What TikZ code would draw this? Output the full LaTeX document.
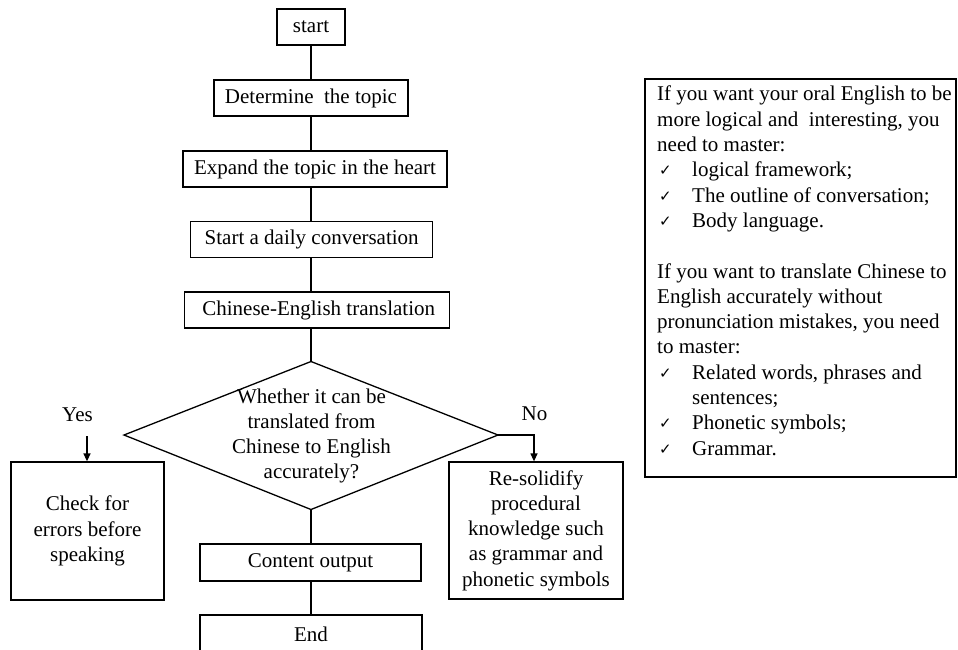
\documentclass[tikz,border=0pt]{standalone}
\usepackage{fontspec}
\setmainfont{Liberation Serif}
\newfontfamily\symfont{DejaVu Sans}
\usetikzlibrary{arrows.meta}
\newcommand{\chk}{\hspace*{2pt}\makebox[33pt][l]{\raisebox{1pt}{\fontsize{15}{15}\selectfont\symfont ✓}}}
\begin{document}
\begin{tikzpicture}[x=1pt,y=-1pt,
  every node/.style={font=\fontsize{21}{25.3}\selectfont},
  box/.style={draw,line width=1.3pt,inner sep=0pt,align=center},
  txt/.style={inner sep=0pt,align=center},
  conn/.style={line width=1.3pt},
  arr/.style={line width=1.3pt,-{Triangle[length=8pt,width=7pt]}}]
\useasboundingbox (0,0) rectangle (958,649);
\clip (0,0) rectangle (958,649);
% main column
\node[box,minimum width=68pt,minimum height=36pt] (start) at (311,27) {start};
\node[box,minimum width=194pt,minimum height=36pt] (det) at (311,98) {Determine\ \ the topic};
\node[box,minimum width=264pt,minimum height=36pt] (exp) at (315,169) {Expand the topic in the heart};
\node[box,minimum width=242pt,minimum height=36pt] (daily) at (311.7,239.7) {Start a daily conversation};
\node[box,minimum width=265pt,minimum height=36pt] (trans) at (316.7,310) {\hspace*{4pt}Chinese-English translation};
% diamond
\coordinate (dT) at (311,361.5);
\coordinate (dL) at (124,435);
\coordinate (dR) at (498,435);
\coordinate (dB) at (311,509.5);
\draw[line width=1.3pt,line join=miter] (dT) -- (dR) -- (dB) -- (dL) -- cycle;
\node[txt] (q) at (311.5,436) {Whether it can be\\translated from\\Chinese to English\\accurately?};
\node[box,minimum width=221pt,minimum height=37pt] (out) at (310.5,562.5) {Content output};
\node[box,minimum width=222pt,minimum height=60pt] (end) at (311,645) {\raisebox{22pt}{End}};
% branches
\node[box,minimum width=153pt,minimum height=138pt] (chk) at (87.5,531) {Check for\\errors before\\speaking};
\node[box,minimum width=174pt,minimum height=137pt] (res) at (536,530.5) {Re-solidify\\procedural\\knowledge such\\as grammar and\\phonetic symbols};
\node[txt] (yes) at (77.5,415) {Yes};
\node[txt] (no) at (534.5,414) {No};
\coordinate (ya) at (87,436);
% connectors
\draw[conn] (start.south) -- (det.north);
\draw[conn] (det.south) -- (det.south |- exp.north);
\draw[conn] (exp.south -| det) -- (daily.north -| det);
\draw[conn] (daily.south -| det) -- (trans.north -| det);
\draw[conn] (trans.south -| dT) -- (dT);
\draw[conn] (dB) -- (out.north -| dB);
\draw[conn] (out.south -| dB) -- (end.north -| dB);
\draw[arr] (ya) -- (ya |- chk.north);
\draw[arr] (dR) -| ([xshift=-2pt]res.north);
% notes
\node[draw,line width=1.3pt,minimum width=311pt,minimum height=398pt,inner sep=0pt] (notes) at (800.5,278) {};
\node[inner sep=0pt,align=left,anchor=north west] (notestxt) at (657,86) {%
If you want your oral English to be\\
more logical and\ \ interesting, you\\
need to master:\\
\chk logical framework;\\
\chk The outline of conversation;\\
\chk Body language.\\
\mbox{}\\
If you want to translate Chinese to\\
English accurately without\\
pronunciation mistakes, you need\\
to master:\\
\chk Related words, phrases and\\
\hspace*{35pt}sentences;\\
\chk Phonetic symbols;\\
\chk Grammar.};
\end{tikzpicture}
\end{document}
